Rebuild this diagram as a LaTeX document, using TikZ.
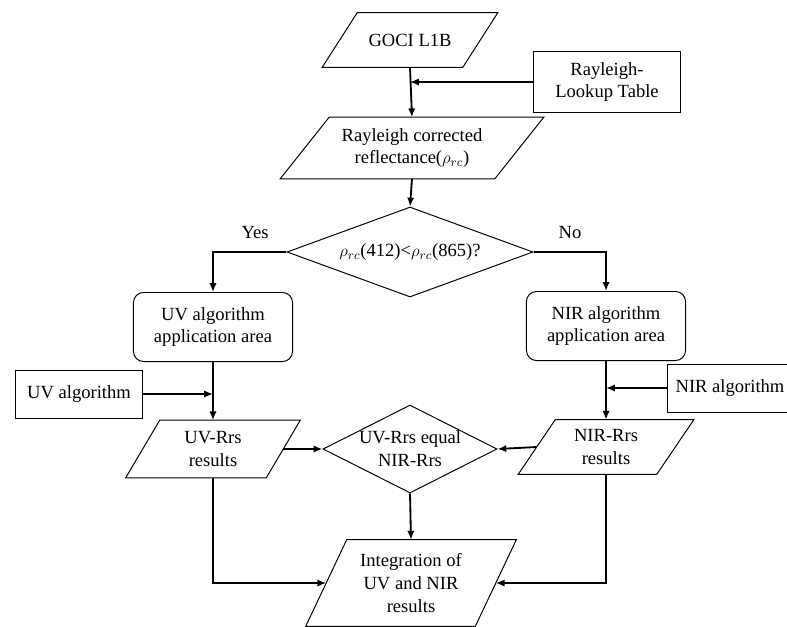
\documentclass[tikz,border=0pt]{standalone}
\usepackage{fontspec}
\setmainfont{Liberation Serif}
\usetikzlibrary{shapes.geometric,arrows.meta,calc}

\tikzset{
    io/.style={rectangle, inner sep=0pt, align=center,
        append after command={\pgfextra{\draw[line width=0.7pt]
            ($(\tikzlastnode.south west)+(-#1,0)$) -- ($(\tikzlastnode.north west)+(#1,0)$) --
            ($(\tikzlastnode.north east)+(#1,0)$) -- ($(\tikzlastnode.south east)+(-#1,0)$) -- cycle;}}},
    proc/.style={rectangle, rounded corners=0.25cm, draw, line width=0.7pt, inner sep=0pt, align=center, minimum width=3.975cm, minimum height=1.725cm},
    inbox/.style={rectangle, draw, line width=0.7pt, inner sep=0pt, align=center},
    decision/.style={diamond, draw, line width=0.7pt, inner sep=0pt, align=center},
    arr/.style={line width=1.3pt, -{Latex[length=2.2mm,width=1.8mm]}}
}

\begin{document}
\begin{tikzpicture}[x=0.025cm, y=-0.025cm, font={\fontsize{13.2pt}{16.3pt}\selectfont}]
    \useasboundingbox (0,0) rectangle (787,626);
    \node[io=17.5, minimum width=3.5cm, minimum height=1.35cm] (goci) at (410,40) {GOCI L1B};
    \node[inbox, minimum width=3.65cm, minimum height=1.525cm] (lut) at (607,82) {Rayleigh-\\Lookup Table};
    \node[io=24.5, minimum width=5.35cm, minimum height=1.525cm] (rcr) at (412,148) {Rayleigh corrected\\reflectance($\rho_{rc}$)};
    \node[decision, aspect=2.73, minimum width=6.15cm, minimum height=2.25cm] (dec) at (410,252) {$\rho_{rc}$(412)<$\rho_{rc}$(865)?};
    \node (lyes) at (255,233) {Yes};
    \node (lno) at (570,233) {No};
    \node[proc] (uva) at (213,327) {UV algorithm\\application area};
    \node[proc] (nira) at (606,326) {NIR algorithm\\application area};
    \node[inbox, minimum width=3.175cm, minimum height=1.2cm] (uvalg) at (79,394) {UV algorithm};
    \node[inbox, minimum width=3.15cm, minimum height=1.2cm] (niralg) at (730,388) {NIR algorithm};
    \node[io=17, minimum width=3.5cm, minimum height=1.425cm] (uvr) at (213,449) {UV-Rrs\\results};
    \node[io=18.5, minimum width=3.45cm, minimum height=1.35cm] (nirr) at (606,447) {NIR-Rrs\\results};
    \node[decision, aspect=1.98, minimum width=4.35cm, minimum height=2.2cm] (eq) at (410,449) {UV-Rrs equal\\NIR-Rrs};
    \node[io=20.5, minimum width=4.225cm, minimum height=2.15cm] (integ) at (411,583) {Integration of\\UV and NIR\\results};
    \draw[arr] (goci.south) -- (rcr.north);
    \draw[arr] (lut.west) -- (lut.west -| goci.south);
    \draw[arr] (rcr.south) -- (dec.north);
    \draw[arr] (dec.west) -| (uva.north);
    \draw[arr] (dec.east) -| (nira.north);
    \draw[arr] (uva.south) -- (uvr.north);
    \draw[arr] (uvalg.east) -- (uvalg.east -| uva.south);
    \draw[arr] (nira.south) -- (nirr.north);
    \draw[arr] (niralg.west) -- (niralg.west -| nira.south);
    \draw[arr] (uvr.east) -- (eq.west);
    \draw[arr] (nirr.west) -- (eq.east);
    \draw[arr] (eq.south) -- (integ.north);
    \draw[arr] (uvr.south) |- (integ.west);
    \draw[arr] (nirr.south) |- (integ.east);
\end{tikzpicture}
\end{document}
